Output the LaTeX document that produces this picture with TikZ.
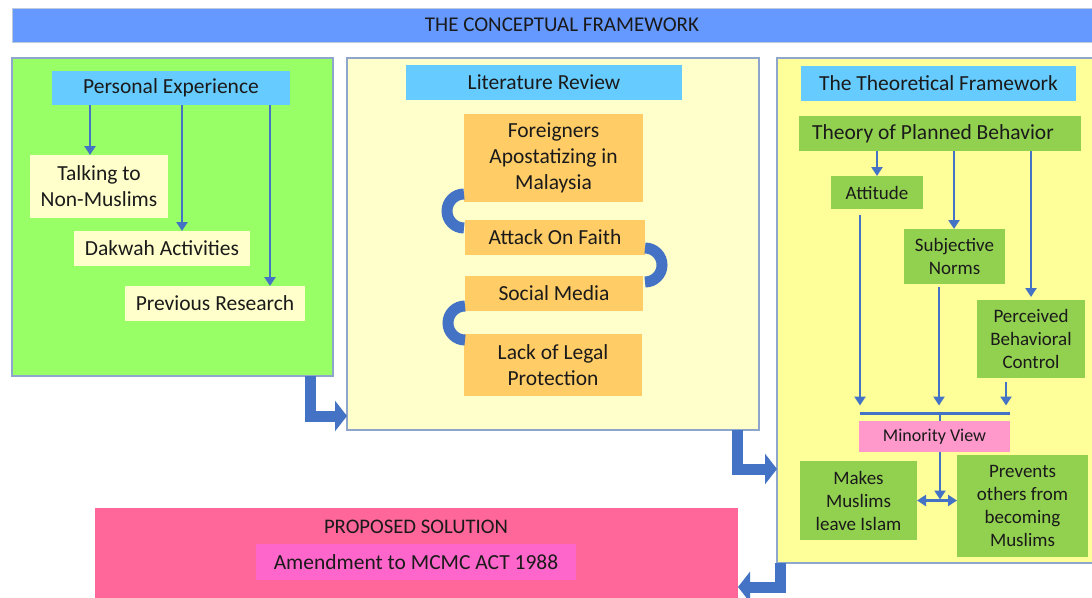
\documentclass[tikz,border=0pt]{standalone}
\usepackage{fontspec}
\setmainfont{Carlito}
\usetikzlibrary{arrows.meta}

\definecolor{titleblue}{HTML}{6699FF}
\definecolor{headblue}{HTML}{66CCFF}
\definecolor{leftgreen}{HTML}{99FF66}
\definecolor{paleyellow}{HTML}{FFFFCC}
\definecolor{brightyellow}{HTML}{FFFF99}
\definecolor{orangebox}{HTML}{FFCC66}
\definecolor{greenbox}{HTML}{92D050}
\definecolor{pinkbox}{HTML}{FF99CC}
\definecolor{solution}{HTML}{FF6699}
\definecolor{amend}{HTML}{FF66CC}
\definecolor{arrowblue}{HTML}{4472C4}
\definecolor{panelborder}{HTML}{8FA6CC}
\definecolor{ink}{HTML}{1A1A1A}

\begin{document}
\begin{tikzpicture}[x=1pt,y=-1pt,
  rect/.style={anchor=north west, inner sep=0pt, outer sep=0pt, align=center, text=ink},
  panel/.style={rect, draw=panelborder, line width=1.2pt},
  big/.style={font=\fontsize{21.5}{26}\selectfont},
  small/.style={font=\fontsize{19}{23}\selectfont},
  thinarr/.style={draw=arrowblue, line width=2.6pt, -{Triangle[length=9pt,width=11pt]}},
  thinline/.style={draw=arrowblue, line width=2.6pt},
  bigarr/.style={draw=arrowblue, line width=11pt, line join=miter, -{Triangle[length=12pt,width=30pt]}},
  ucon/.style={draw=arrowblue, line width=11pt}
]
\useasboundingbox (0,0) rectangle (1092,597);
\fill[white] (0,0) rectangle (1092,597);

% heading bar
\node[rect, fill=titleblue, draw=panelborder!60, line width=0.8pt, minimum width=1100pt, minimum height=34pt,
      font=\fontsize{21}{25}\selectfont] (title) at (12,8) {THE CONCEPTUAL FRAMEWORK};

% three panels
\node[panel, fill=leftgreen, minimum width=321pt, minimum height=318pt] (lp) at (12,58) {};
\node[panel, fill=paleyellow, minimum width=412pt, minimum height=372pt] (mp) at (347,58) {};
\node[panel, fill=brightyellow, minimum width=330pt, minimum height=505pt] (rp) at (777,58) {};

% proposed solution
\node[rect, fill=solution, minimum width=643pt, minimum height=92pt] (prop) at (95,508) {};
\node[font=\fontsize{20.7}{25}\selectfont, text=ink, inner sep=0pt] (propt) at (416,527) {PROPOSED SOLUTION};
\node[rect, fill=amend, minimum width=320pt, minimum height=36pt, font=\fontsize{21.5}{26}\selectfont] (amendbox) at (256,544) {Amendment to MCMC ACT 1988};

% personal experience
\node[rect, big, fill=headblue, minimum width=238pt, minimum height=34pt] (pe) at (52,71) {Personal Experience};
\node[rect, big, fill=paleyellow, minimum width=138pt, minimum height=63pt] (talk) at (30,155) {Talking to\\Non-Muslims};
\node[rect, big, fill=paleyellow, minimum width=176pt, minimum height=35pt] (dakwah) at (74,231) {Dakwah Activities};
\node[rect, big, fill=paleyellow, minimum width=180pt, minimum height=35pt] (prev) at (125,286) {Previous Research};

\coordinate (a1) at ([xshift=38pt]pe.south west);
\coordinate (a2) at ([xshift=130pt]pe.south west);
\coordinate (a3) at ([xshift=218pt]pe.south west);
\draw[thinarr] (a1) -- (a1 |- talk.north);
\draw[thinarr] (a2) -- (a2 |- dakwah.north);
\draw[thinarr] (a3) -- (a3 |- prev.north);

% literature review
\node[rect, big, fill=headblue, minimum width=276pt, minimum height=35pt] (lit) at (406,65) {Literature Review};
\node[rect, big, fill=orangebox, minimum width=179pt, minimum height=88pt] (fmal) at (464,114) {Foreigners\\Apostatizing in\\Malaysia};
\node[rect, big, fill=orangebox, minimum width=180pt, minimum height=35pt] (attack) at (465,220) {Attack On Faith};
\node[rect, big, fill=orangebox, minimum width=178pt, minimum height=35pt] (social) at (465,276) {Social Media};
\node[rect, big, fill=orangebox, minimum width=178pt, minimum height=62pt] (lack) at (464,334) {Lack of Legal\\Protection};

\draw[ucon] ([yshift=8pt]fmal.south west) arc[start angle=90, end angle=270, radius=17pt];
\draw[ucon] ([yshift=7pt]attack.south east) arc[start angle=90, end angle=-90, radius=17pt];
\draw[ucon] ([yshift=5pt]social.south west) arc[start angle=90, end angle=270, radius=17pt];

% theoretical framework
\node[rect, big, fill=headblue, minimum width=275pt, minimum height=35pt] (ttf) at (801,66) {The Theoretical Framework};
\node[rect, big, fill=greenbox, minimum width=282pt, minimum height=35pt] (tpb) at (799,116) {Theory of Planned Behavior\hspace*{14pt}};
\node[rect, small, fill=greenbox, minimum width=92pt, minimum height=33pt] (att) at (831,176) {Attitude};
\node[rect, small, fill=greenbox, minimum width=101pt, minimum height=55pt] (subj) at (904,229) {Subjective\\Norms};
\node[rect, small, fill=greenbox, minimum width=108pt, minimum height=78pt] (perc) at (977,300) {Perceived\\Behavioral\\Control};
\node[rect, fill=arrowblue, minimum width=150pt, minimum height=3pt] (bar) at (860,411.5) {};
\node[rect, fill=pinkbox, minimum width=151pt, minimum height=31pt, font=\fontsize{18}{22}\selectfont] (mv) at (859,421) {Minority View};
\node[rect, small, fill=greenbox, minimum width=117pt, minimum height=79pt] (makes) at (800,461) {Makes\\Muslims\\leave Islam};
\node[rect, small, fill=greenbox, minimum width=131pt, minimum height=102pt] (prevents) at (957,455) {Prevents\\others from\\becoming\\Muslims};

\coordinate (b1) at ([xshift=78pt]tpb.south west);
\coordinate (b2) at ([xshift=155pt]tpb.south west);
\coordinate (b3) at ([xshift=232pt]tpb.south west);
\draw[thinarr] (b1) -- (b1 |- att.north);
\draw[thinarr] (b2) -- (b2 |- subj.north);
\draw[thinarr] (b3) -- ([yshift=3pt]b3 |- perc.north);

\coordinate (c1) at ([xshift=29pt]att.south west);
\coordinate (c2) at ([xshift=35pt]subj.south west);
\coordinate (c3) at ([xshift=29pt]perc.south west);
\draw[thinarr, shorten <=6pt, shorten >=6pt] (c1) -- (c1 |- bar.north);
\draw[thinarr, shorten <=3pt, shorten >=6pt] (c2) -- (c2 |- bar.north);
\draw[thinarr, shorten <=4pt, shorten >=6pt] (c3) -- (c3 |- bar.north);

\coordinate (d) at ([xshift=81pt]mv.north west);
\draw[thinline] (d |- bar.south) -- (d);
\coordinate (e) at ([xshift=81pt]mv.south west);
\draw[thinarr, shorten >=1pt] (e) -- (e |- makes.east);
\draw[thinline, {Triangle[length=9pt,width=11pt]}-{Triangle[length=9pt,width=11pt]}] (makes.east) -- (makes.east -| prevents.west);

% flow between stages
\draw[bigarr] ([xshift=-23pt]lp.south east) |- ([yshift=14pt]mp.south west);
\draw[bigarr] ([xshift=-22pt]mp.south east) |- ([yshift=94pt]rp.south west);
\draw[bigarr] ([xshift=3pt]rp.south west) |- ([yshift=13pt]prop.south east);
\end{tikzpicture}
\end{document}
